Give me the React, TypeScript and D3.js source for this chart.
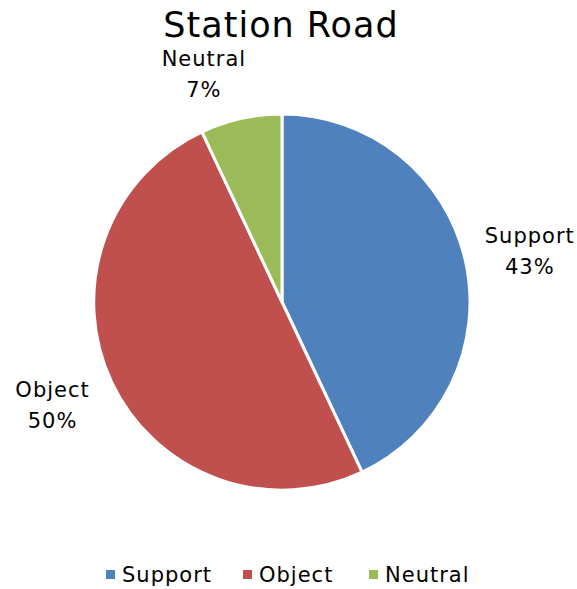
import { useEffect, useRef } from "react";
import * as d3 from "d3";

const categories = ["Support", "Object", "Neutral"];
const values = [43, 50, 7];
const colors = ["#4F81BD", "#C0504D", "#9BBB59"];

const width = 577;
const height = 589;
const font = "'DejaVu Sans', sans-serif";

const App = () => {
  const svgRef = useRef<SVGSVGElement>(null);

  useEffect(() => {
    const svg = d3.select(svgRef.current);
    svg.selectAll("*").remove();

    const cx = 282;
    const cy = 302;
    const radius = 188;

    // Title
    svg
      .append("text")
      .attr("x", 281)
      .attr("y", 37)
      .attr("text-anchor", "middle")
      .style("font-family", font)
      .style("font-size", "35px")
      .style("letter-spacing", "1px")
      .attr("fill", "#000")
      .text("Station Road");

    const data = categories.map((c, i) => ({ name: c, value: values[i], color: colors[i] }));

    const pie = d3
      .pie<{ name: string; value: number; color: string }>()
      .value((d) => d.value)
      .sort(null);

    const arc = d3
      .arc<d3.PieArcDatum<{ name: string; value: number; color: string }>>()
      .innerRadius(0)
      .outerRadius(radius);

    const g = svg.append("g").attr("transform", `translate(${cx},${cy})`);

    const arcs = pie(data);

    g.selectAll("path")
      .data(arcs)
      .enter()
      .append("path")
      .attr("d", arc)
      .attr("fill", (d) => d.data.color)
      .attr("stroke", "#fff")
      .attr("stroke-width", 3)
      .attr("stroke-linejoin", "round");

    // Data labels outside
    const labelArc = d3
      .arc<d3.PieArcDatum<{ name: string; value: number; color: string }>>()
      .innerRadius(radius + 28)
      .outerRadius(radius + 28);

    const labelOffsets: Record<string, [number, number]> = {
      Support: [37, -12],
      Object: [-34, 3],
      Neutral: [-31, -25],
    };

    arcs.forEach((d) => {
      const [x, y] = labelArc.centroid(d);
      const [dx, dy] = labelOffsets[d.data.name];
      const t = g
        .append("text")
        .attr("text-anchor", "middle")
        .style("font-family", font)
        .style("font-size", "21px")
        .style("letter-spacing", "1px")
        .attr("fill", "#000");
      t.append("tspan")
        .attr("x", x + dx)
        .attr("y", y + dy)
        .text(d.data.name);
      t.append("tspan")
        .attr("x", x + dx)
        .attr("y", y + dy + 31)
        .text(`${d.data.value}%`);
    });

    // Legend
    const legendX = [106, 243, 369];
    const legend = svg.append("g");
    data.forEach((d, i) => {
      legend
        .append("rect")
        .attr("x", legendX[i])
        .attr("y", 570)
        .attr("width", 9)
        .attr("height", 9)
        .attr("fill", d.color);
      legend
        .append("text")
        .attr("x", legendX[i] + 16)
        .attr("y", 582)
        .style("font-family", font)
        .style("font-size", "21px")
        .style("letter-spacing", "1px")
        .attr("fill", "#000")
        .text(d.name);
    });
  }, []);

  return (
    <svg
      ref={svgRef}
      width={width}
      height={height}
      style={{ position: "absolute", left: 0, top: 0, background: "#fff" }}
    />
  );
};

export default App;
